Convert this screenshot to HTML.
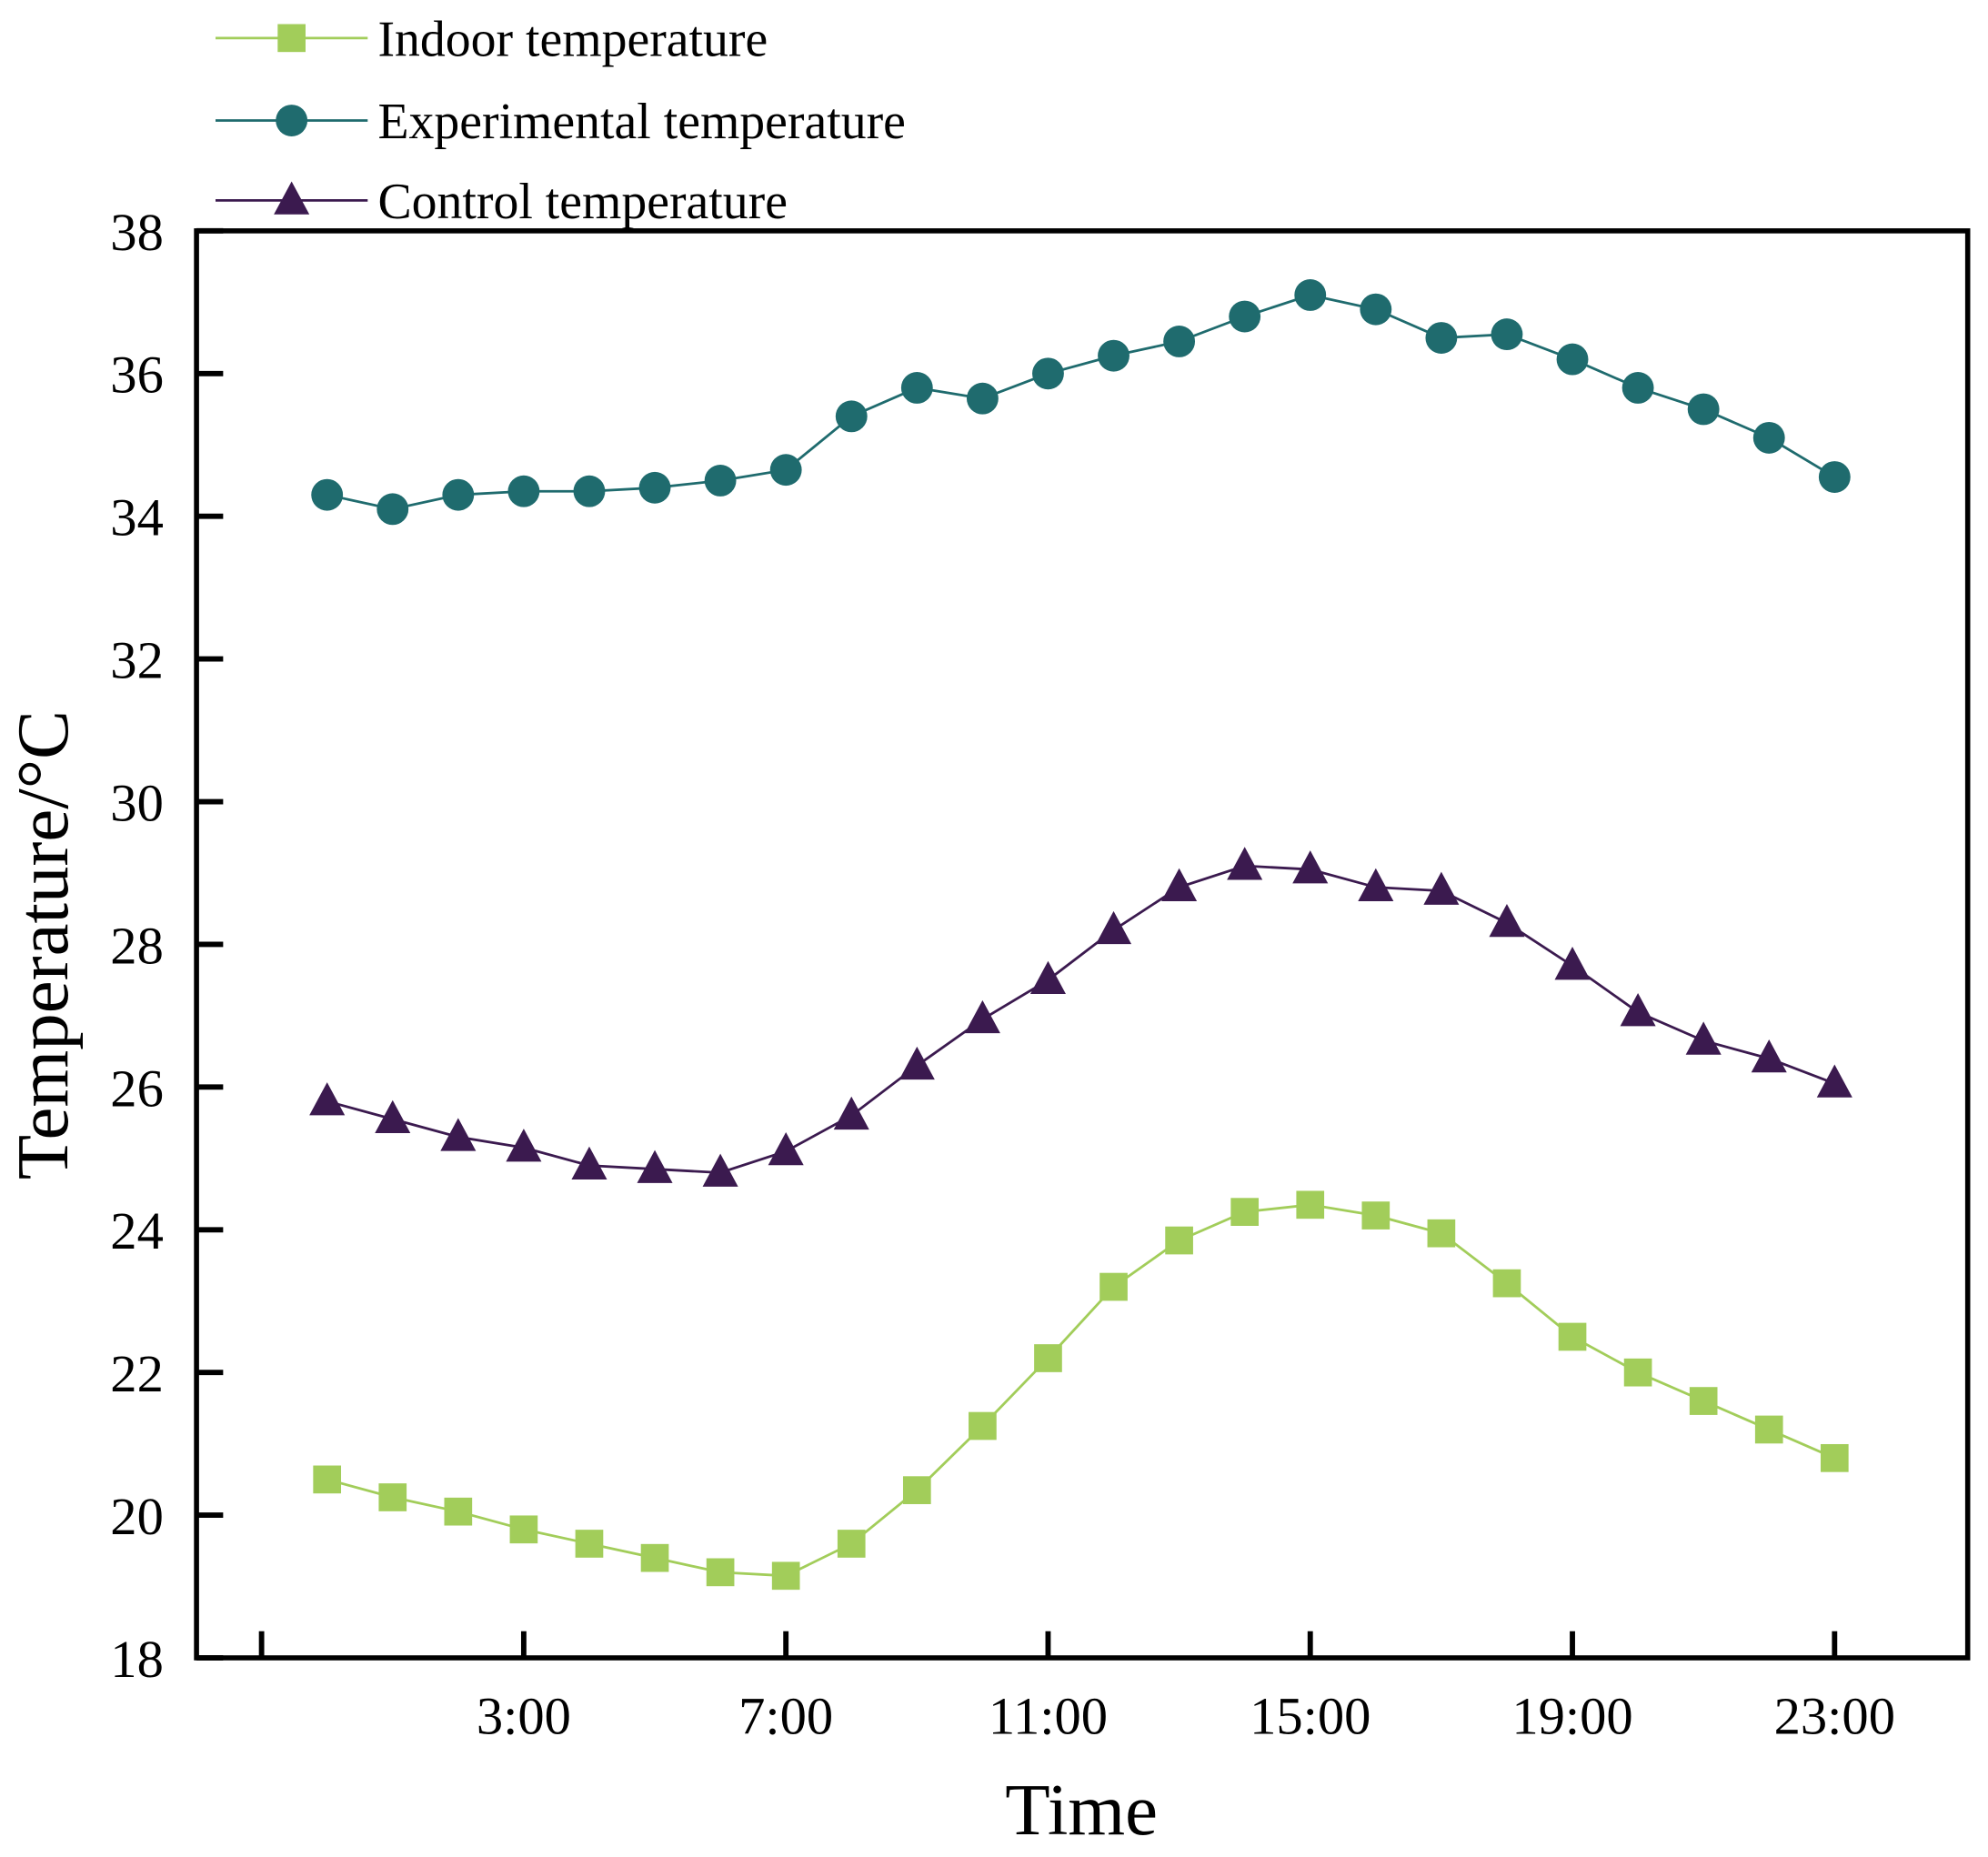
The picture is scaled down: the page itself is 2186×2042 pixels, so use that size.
<!DOCTYPE html>
<html><head><meta charset="utf-8"><style>
html,body{margin:0;padding:0;background:#fff;}
svg{display:block;}
text{font-family:"Liberation Serif",serif;fill:#000;}
</style></head><body>
<svg id="chart" width="2186" height="2042" viewBox="0 0 1568 1464" preserveAspectRatio="none" xmlns="http://www.w3.org/2000/svg">
<g id="plot"></g>
</svg>
<script>
const hours = [0,1,2,3,4,5,6,7,8,9,10,11,12,13,14,15,16,17,18,19,20,21,22,23];
const experimental = [34.3,34.1,34.3,34.35,34.35,34.4,34.5,34.65,35.4,35.8,35.65,36.0,36.25,36.45,36.8,37.1,36.9,36.5,36.55,36.2,35.8,35.5,35.1,34.55];
const control = [25.8,25.55,25.3,25.15,24.9,24.85,24.8,25.1,25.6,26.3,26.95,27.5,28.2,28.8,29.1,29.05,28.8,28.75,28.3,27.7,27.05,26.65,26.4,26.05];
const indoor = [20.5,20.25,20.05,19.8,19.6,19.4,19.2,19.15,19.6,20.35,21.25,22.2,23.2,23.85,24.25,24.35,24.2,23.95,23.25,22.5,22.0,21.6,21.2,20.8];
const yTicks = [18,20,22,24,26,28,30,32,34,36,38];
const xTicks = [-1,3,7,11,15,19,23];
const xTickLabels = ["","3:00","7:00","11:00","15:00","19:00","23:00"];

const NS="http://www.w3.org/2000/svg";
const L=155,R=1552,T=182,B=1307;
const xs=h=>258+h*(1447-258)/23;
const ys=v=>B-(v-18)*(B-T)/20;
const g=document.getElementById('plot');
function mk(tag,attrs,parent){const e=document.createElementNS(NS,tag);for(const k in attrs)e.setAttribute(k,attrs[k]);(parent||g).appendChild(e);return e;}

let fr=mk('rect',{x:L,y:T,width:R-L,height:B-T,fill:'none',stroke:'#000','stroke-width':4});



yTicks.forEach(v=>{
  const t=mk('line',{x1:L,x2:L+21,y1:ys(v),y2:ys(v),stroke:'#000','stroke-width':4.2});
  
  
  const lb=mk('text',{x:129,y:ys(v)+15,'text-anchor':'end','font-size':42});
  lb.textContent=v;
  
  
});
xTicks.forEach((h,i)=>{
  const t=mk('line',{x1:xs(h),x2:xs(h),y1:B,y2:B-21,stroke:'#000','stroke-width':4.2});
  
  
  const lb=mk('text',{x:xs(h),y:1367,'text-anchor':'middle','font-size':42});
  lb.textContent=xTickLabels[i];
  
  
});
let xt=mk('text',{x:853,y:1446,'text-anchor':'middle','font-size':58});
xt.textContent='Time';


let yt=mk('text',{x:0,y:0,'text-anchor':'middle','font-size':58,transform:'translate(53,745) rotate(-90)'});
yt.textContent='Temperature/°C';



function marker(type,cx,cy,color,parent){
  let m;
  if(type==='square') m=mk('rect',{x:cx-11,y:cy-11,width:22,height:22,fill:color},parent);
  else if(type==='circle') m=mk('circle',{cx:cx,cy:cy,r:12.5,fill:color},parent);
  else m=mk('polygon',{points:`${cx},${cy-15} ${cx+14},${cy+11} ${cx-14},${cy+11}`,fill:color},parent);
  return m;
}
const series=[
  {name:'indoor',vals:indoor,color:'#a2cd5a',type:'square',label:'Indoor temperature',ly:30},
  {name:'experimental',vals:experimental,color:'#1f6b6e',type:'circle',label:'Experimental temperature',ly:95},
  {name:'control',vals:control,color:'#3b1a4f',type:'triangle',label:'Control temperature',ly:158}
];
series.forEach(s=>{
  const grp=mk('g',{});
  
  
  const pl=mk('polyline',{points:s.vals.map((v,i)=>xs(hours[i])+','+ys(v)).join(' '),fill:'none',stroke:s.color,'stroke-width':2},grp);
  
  
  s.vals.forEach((v,i)=>{
    const m=marker(s.type,xs(hours[i]),ys(v),s.color,grp);
    
    
  });
  const lg=mk('g',{});
  
  
  mk('line',{x1:170,x2:290,y1:s.ly,y2:s.ly,stroke:s.color,'stroke-width':2},lg);
  marker(s.type,230,s.ly,s.color,lg);
  const tx=mk('text',{x:298,y:s.ly+14,'font-size':40},lg);
  tx.textContent=s.label;
});
</script>
</body></html>
